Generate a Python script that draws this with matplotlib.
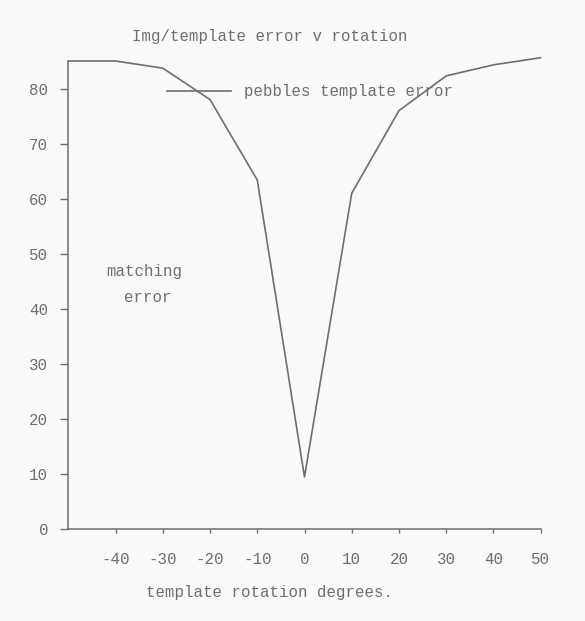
import matplotlib
matplotlib.use("Agg")
import matplotlib.pyplot as plt

# rotation (degrees) vs template matching error
rotation = [-50, -40, -30, -20, -10, 0, 10, 20, 30, 40, 50]
match_err = [85.0, 85.0, 83.7, 78.0, 63.4, 9.5, 61.0, 76.0, 82.3, 84.3, 85.6]

x_ticks = [-40, -30, -20, -10, 0, 10, 20, 30, 40, 50]
y_ticks = [0, 10, 20, 30, 40, 50, 60, 70, 80]

W, H = 585, 621
ink = "#6e6e6e"
paper = "#fafafa"
font = "Liberation Mono"
fs = 11.3

plt.rcParams["font.family"] = [font, "DejaVu Sans Mono"]
plt.rcParams["axes.unicode_minus"] = False  # typewriter hyphen, not a real minus

fig = plt.figure(figsize=(W / 100, H / 100), dpi=100, facecolor=paper)
ax = fig.add_axes([68.3 / W, 1 - 529.3 / H, (540.7 - 68.3) / W, (529.3 - 61.0) / H])
ax.set_facecolor(paper)

ax.plot(rotation, match_err, color=ink, lw=1.2, clip_on=False,
        label="pebbles template error")

ax.set_xlim(-50, 50)
ax.set_ylim(0, 85)
ax.set_xticks(x_ticks)
ax.set_yticks(y_ticks)

for s in ["top", "right"]:
    ax.spines[s].set_visible(False)
for s in ["left", "bottom"]:
    ax.spines[s].set_color(ink)
    ax.spines[s].set_linewidth(1.1)

ax.tick_params(axis="y", direction="out", length=6, width=1, pad=8.5,
               colors=ink, labelsize=fs)
ax.tick_params(axis="x", direction="out", length=3, width=1, pad=13,
               colors=ink, labelsize=fs)

# legend, no frame, long handle
ax.legend(loc="center left", bbox_to_anchor=(166.7 / W, 1 - 91.7 / H),
          bbox_transform=fig.transFigure, frameon=False, borderpad=0,
          borderaxespad=0, handlelength=4.1, handletextpad=0.8,
          prop={"family": font, "size": fs}, labelcolor=ink)

fig.text(270 / W, 1 - 36.7 / H, "Img/template error v rotation",
         ha="center", va="center", color=ink, fontsize=fs)
fig.text(270 / W, 1 - 593 / H, "template rotation degrees.",
         ha="center", va="center", color=ink, fontsize=fs)
fig.text(144 / W, 1 - 272 / H, "matching", ha="center", va="center",
         color=ink, fontsize=fs)
fig.text(148 / W, 1 - 297 / H, "error", ha="center", va="center",
         color=ink, fontsize=fs)

fig.savefig("out.png", dpi=100, facecolor=paper)
